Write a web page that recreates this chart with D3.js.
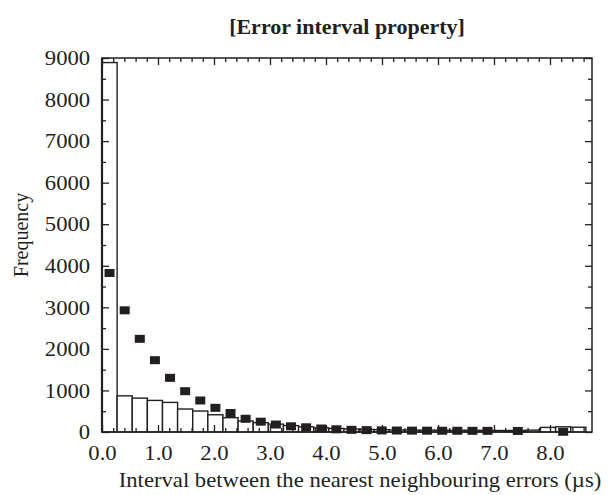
<!DOCTYPE html>
<html>
<head>
<meta charset="utf-8">
<script src="https://cdn.jsdelivr.net/npm/d3@7"></script>
<style>
  html, body { margin: 0; padding: 0; background: #fff; }
  svg text { font-family: "Liberation Serif", "Times New Roman", serif; fill: #231f20; }
</style>
</head>
<body>
<div id="chart"></div>
<script>
"use strict";

// histogram bins (lower edges, µs) and counts
const binStarts = [0.00, 0.27, 0.54, 0.81, 1.08, 1.35, 1.62, 1.89, 2.16, 2.43, 2.70, 2.97, 3.24, 3.51, 3.78, 4.05,
  4.32, 4.59, 4.86, 5.13, 5.40, 5.67, 5.94, 6.21, 6.48, 6.75, 7.02, 7.29, 7.56, 7.83, 8.10, 8.37];
const binWidth = 0.27;
const binCounts = [8890, 870, 815, 760, 712, 553, 505, 415, 345, 265, 225, 190, 155, 125, 100, 85,
  72, 62, 55, 50, 46, 44, 42, 40, 40, 38, 36, 35, 45, 110, 125, 115];

// square markers
const pointX = [0.135, 0.405, 0.675, 0.945, 1.215, 1.485, 1.755, 2.025, 2.295, 2.565, 2.835, 3.105, 3.375, 3.645,
  3.915, 4.185, 4.455, 4.725, 4.995, 5.265, 5.535, 5.805, 6.075, 6.345, 6.615, 6.885, 7.425, 8.235];
const pointY = [3826, 2928, 2242, 1728, 1303, 982, 758, 582, 457, 318, 248, 180, 137, 113,
  84, 65, 52, 45, 38, 35, 33, 32, 30, 30, 28, 28, 25, 5];

const xMajor = [0, 1, 2, 3, 4, 5, 6, 7, 8];
const yMajor = [0, 1000, 2000, 3000, 4000, 5000, 6000, 7000, 8000, 9000];

const titleText = "[Error interval property]";
const xLabel = "Interval between the nearest neighbouring errors (\u00b5s)";
const yLabel = "Frequency";

const svgWidth = 612;
const svgHeight = 495;
const ink = "#231f20";
const stretch = "scale(1.08,1)";
const plot = { left: 102, right: 592, top: 58, bottom: 432 };

const svg = d3.select("#chart")
  .append("svg")
  .attr("width", svgWidth)
  .attr("height", svgHeight)
;

const xScale = d3.scaleLinear()
  .domain([0, 8.75])
  .range([plot.left, plot.right])
;
const yScale = d3.scaleLinear()
  .domain([0, 9000])
  .range([plot.bottom, plot.top])
;

const xMinor = d3.range(0, 8.75, 0.2).filter(v => Math.abs(v - Math.round(v)) > 1e-6);
const yMinor = d3.range(500, 9000, 1000);

// bars
svg.append("g")
  .selectAll("rect")
  .data(binCounts)
  .enter()
  .append("rect")
  .attr("x", (d, i) => xScale(binStarts[i]))
  .attr("y", d => yScale(d))
  .attr("width", (d, i) => xScale(binStarts[i] + binWidth) - xScale(binStarts[i]))
  .attr("height", d => yScale(0) - yScale(d))
  .attr("fill", "#fff")
  .attr("stroke", ink)
  .attr("stroke-width", 1.4)
;

// squares
svg.append("g")
  .selectAll("rect")
  .data(pointY)
  .enter()
  .append("rect")
  .attr("x", (d, i) => xScale(pointX[i]) - 5)
  .attr("y", d => yScale(d) - 4)
  .attr("width", 10)
  .attr("height", 8)
  .attr("fill", ink)
;

// axes (ticks pointing inward)
function styleAxis(g) {
  g.select(".domain").remove();
  g.selectAll(".tick line").attr("stroke", ink).attr("stroke-width", 1.3);
  g.selectAll(".tick text")
    .attr("font-size", 21)
    .attr("transform", stretch)
  ;
}

svg.append("g")
  .attr("transform", `translate(0, ${plot.bottom})`)
  .call(d3.axisBottom(xScale).tickValues(xMajor).tickFormat(d3.format(".1f"))
    .tickSizeInner(-7).tickSizeOuter(0).tickPadding(13))
  .call(styleAxis)
;
svg.append("g")
  .attr("transform", `translate(0, ${plot.bottom})`)
  .call(d3.axisBottom(xScale).tickValues(xMinor).tickFormat("").tickSizeInner(-4).tickSizeOuter(0))
  .call(styleAxis)
;
svg.append("g")
  .attr("transform", `translate(0, ${plot.top})`)
  .call(d3.axisTop(xScale).tickValues(xMajor).tickFormat("").tickSizeInner(-7).tickSizeOuter(0))
  .call(styleAxis)
;
svg.append("g")
  .attr("transform", `translate(0, ${plot.top})`)
  .call(d3.axisTop(xScale).tickValues(xMinor).tickFormat("").tickSizeInner(-4).tickSizeOuter(0))
  .call(styleAxis)
;
svg.append("g")
  .attr("transform", `translate(${plot.left}, 0)`)
  .call(d3.axisLeft(yScale).tickValues(yMajor).tickFormat(d3.format("d"))
    .tickSizeInner(-7).tickSizeOuter(0).tickPadding(11))
  .call(styleAxis)
;
svg.append("g")
  .attr("transform", `translate(${plot.left}, 0)`)
  .call(d3.axisLeft(yScale).tickValues(yMinor).tickFormat("").tickSizeInner(-4).tickSizeOuter(0))
  .call(styleAxis)
;
svg.append("g")
  .attr("transform", `translate(${plot.right}, 0)`)
  .call(d3.axisRight(yScale).tickValues(yMajor).tickFormat("").tickSizeInner(-7).tickSizeOuter(0))
  .call(styleAxis)
;
svg.append("g")
  .attr("transform", `translate(${plot.right}, 0)`)
  .call(d3.axisRight(yScale).tickValues(yMinor).tickFormat("").tickSizeInner(-4).tickSizeOuter(0))
  .call(styleAxis)
;

// frame
svg.append("rect")
  .attr("x", plot.left)
  .attr("y", plot.top)
  .attr("width", plot.right - plot.left)
  .attr("height", plot.bottom - plot.top)
  .attr("fill", "none")
  .attr("stroke", ink)
  .attr("stroke-width", 1.5)
;
svg.append("line")
  .attr("x1", plot.left).attr("x2", plot.left)
  .attr("y1", plot.top).attr("y2", plot.bottom)
  .attr("stroke", ink)
  .attr("stroke-width", 2.2)
;

// labels
svg.append("text")
  .attr("transform", `translate(${(plot.left + plot.right) / 2}, 34) scale(1.1,1)`)
  .attr("text-anchor", "middle")
  .attr("font-size", 20)
  .attr("font-weight", "bold")
  .text(titleText)
;
svg.append("text")
  .attr("transform", `translate(360, 487) ${stretch}`)
  .attr("text-anchor", "middle")
  .attr("font-size", 21)
  .text(xLabel)
;
svg.append("text")
  .attr("transform", `translate(28, 235) ${stretch} rotate(-90)`)
  .attr("text-anchor", "middle")
  .attr("font-size", 20)
  .text(yLabel)
;
</script>
</body>
</html>
